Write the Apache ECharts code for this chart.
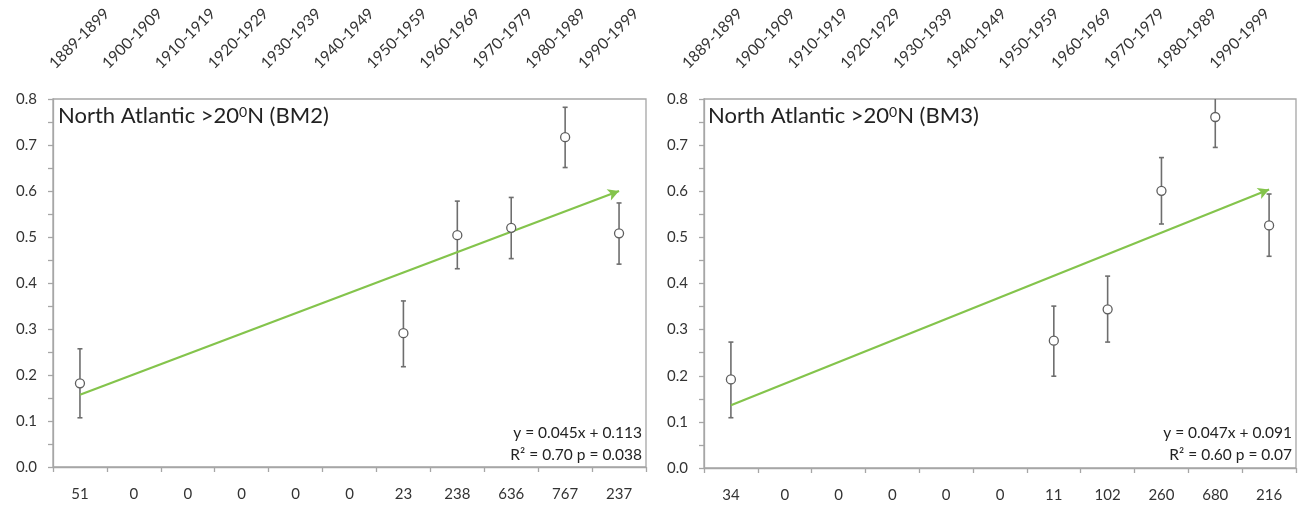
<!DOCTYPE html>
<html>
<head>
<meta charset="utf-8">
<script src="https://cdn.jsdelivr.net/npm/echarts@6/dist/echarts.min.js"></script>
<style>
html,body{margin:0;padding:0;background:#fff;}
#chart{width:1302px;height:507px;}
</style>
</head>
<body>
<div id="chart"></div>
<script>
// ---- data ----
const decades = ['1889-1899','1900-1909','1910-1919','1920-1929','1930-1939','1940-1949','1950-1959','1960-1969','1970-1979','1980-1989','1990-1999'];
const countsBM2 = ['51','0','0','0','0','0','23','238','636','767','237'];
const countsBM3 = ['34','0','0','0','0','0','11','102','260','680','216'];
const meanBM2 = [0.182, null, null, null, null, null, 0.291, 0.504, 0.520, 0.717, 0.508];
const lowBM2  = [0.107, null, null, null, null, null, 0.218, 0.431, 0.453, 0.651, 0.441];
const highBM2 = [0.257, null, null, null, null, null, 0.361, 0.578, 0.586, 0.782, 0.574];
const meanBM3 = [0.192, null, null, null, null, null, 0.276, 0.344, 0.601, 0.761, 0.526];
const lowBM3  = [0.109, null, null, null, null, null, 0.199, 0.273, 0.529, 0.695, 0.459];
const highBM3 = [0.273, null, null, null, null, null, 0.351, 0.416, 0.673, 0.830, 0.594];
const trendBM2 = [0.157, 0.600];   // at first and last decade
const trendBM3 = [0.136, 0.604];
const titleBM2 = ['North Atlantic >20', '0', 'N (BM2)'];
const titleBM3 = ['North Atlantic >20', '0', 'N (BM3)'];
const eqBM2 = ['y = 0.045x + 0.113', 'R² = 0.70 p = 0.038'];
const eqBM3 = ['y = 0.047x + 0.091', 'R² = 0.60 p = 0.07'];

// ---- styles ----
const FONT = 'Lato';
const TXT = '#333333';
const AX = '#a6a6a6';
const GREEN = '#84c44c';
const BAR = '#6e6e6e';

function pts(mean){ const o=[]; mean.forEach((v,i)=>{ if(v!=null) o.push([i,v]); }); return o; }
function bars(lo,hi){ const o=[]; lo.forEach((v,i)=>{ if(v!=null) o.push([i,v,hi[i]]); }); return o; }

function renderErr(params, api){
  const x = api.value(0);
  const lo = api.coord([x, api.value(1)]);
  const hi = api.coord([x, api.value(2)]);
  const top = params.coordSys.y;
  const clipped = hi[1] < top;
  const yh = clipped ? top : hi[1];
  const st = {stroke: BAR, lineWidth: 1.6};
  const ch = [
    {type:'line', shape:{x1:lo[0],y1:lo[1],x2:hi[0],y2:yh}, style:st},
    {type:'line', shape:{x1:lo[0]-2.5,y1:lo[1],x2:lo[0]+2.5,y2:lo[1]}, style:st}
  ];
  if(!clipped) ch.push({type:'line', shape:{x1:hi[0]-2.5,y1:hi[1],x2:hi[0]+2.5,y2:hi[1]}, style:st});
  return {type:'group', children: ch};
}

function plotX(idx, counts){
  return {
    gridIndex: idx, type:'category', data: counts, boundaryGap:true,
    axisLine:{show:true, lineStyle:{color:AX, width:1.3}},
    axisTick:{show:true, interval:0, length:5, lineStyle:{color:AX, width:1.3}},
    axisLabel:{interval:0, fontFamily:FONT, fontSize:15, color:TXT, margin:20},
    splitLine:{show:false}
  };
}
function plotY(idx){
  return {
    gridIndex: idx, type:'value', min:0, max:0.8, interval:0.1,
    axisLine:{show:true, lineStyle:{color:AX, width:1.3}},
    axisTick:{show:true, length:5, lineStyle:{color:AX, width:1.3}},
    minorTick:{show:true, splitNumber:2, length:5, lineStyle:{color:AX, width:1.3}},
    axisLabel:{fontFamily:FONT, fontSize:15, color:TXT, margin:16, formatter:v=>v.toFixed(1)},
    splitLine:{show:false}
  };
}
function topX(idx){
  return {
    gridIndex: idx, type:'category', data: decades, position:'top', boundaryGap:true,
    axisLine:{show:false}, axisTick:{show:false},
    axisLabel:{interval:0, rotate:45, fontFamily:FONT, fontSize:15.5, color:TXT, margin:8}
  };
}
function hiddenY(idx){ return {gridIndex: idx, type:'value', show:false, min:0, max:1}; }

function seriesFor(ax, mean, lo, hi, trend){
  return [
    {type:'custom', xAxisIndex:ax, yAxisIndex:ax, renderItem:renderErr, data:bars(lo,hi), z:2, silent:true},
    {type:'scatter', xAxisIndex:ax, yAxisIndex:ax, data:pts(mean), symbol:'circle', symbolSize:9,
      itemStyle:{color:'#ffffff', borderColor:'#5e5e5e', borderWidth:1.3, opacity:1}, z:4, silent:true,
      markLine:{silent:true, symbol:['none','arrow'], symbolSize:[9,11], z:3,
        lineStyle:{color:GREEN, width:2.2, type:'solid'}, label:{show:false},
        emphasis:{disabled:true},
        data:[[{coord:[0, trend[0]]},{coord:[decades.length-1, trend[1]]}]]}}
  ];
}

function titleText(parts, x){
  return {type:'text', left:x, top:105, z:10, style:{
    text:'{a|'+parts[0]+'}{s|'+parts[1]+'}{a|'+parts[2]+'}',
    rich:{a:{fontFamily:FONT, fontSize:22, fill:'#222', verticalAlign:'bottom'}, s:{fontFamily:FONT, fontSize:14, fill:'#222', verticalAlign:'top'}}
  }};
}
function eqText(lines, x){
  return [
    {type:'text', x:x, y:433, z:10, style:{text:lines[0], fontFamily:FONT, fontSize:15.5, fill:'#222', align:'right', verticalAlign:'middle'}},
    {type:'text', x:x, y:455, z:10, style:{text:lines[1], fontFamily:FONT, fontSize:15.5, fill:'#222', align:'right', verticalAlign:'middle'}}
  ];
}

const chart = echarts.init(document.getElementById('chart'), null, {renderer:'canvas'});
chart.setOption({
  animation:false,
  backgroundColor:'#ffffff',
  grid:[
    {left:53, top:99, width:593, height:368, show:true, borderColor:AX, borderWidth:1.3, containLabel:false},
    {left:704, top:99, width:592, height:369, show:true, borderColor:AX, borderWidth:1.3, containLabel:false},
    {left:25.5, top:74, width:582, height:10},
    {left:658.6, top:74, width:580, height:10}
  ],
  xAxis:[plotX(0,countsBM2), plotX(1,countsBM3), topX(2), topX(3)],
  yAxis:[plotY(0), plotY(1), hiddenY(2), hiddenY(3)],
  series:[].concat(
    seriesFor(0, meanBM2, lowBM2, highBM2, trendBM2),
    seriesFor(1, meanBM3, lowBM3, highBM3, trendBM3)
  ),
  graphic:[titleText(titleBM2, 58), titleText(titleBM3, 708)].concat(eqText(eqBM2, 642), eqText(eqBM3, 1292))
});
</script>
</body>
</html>
